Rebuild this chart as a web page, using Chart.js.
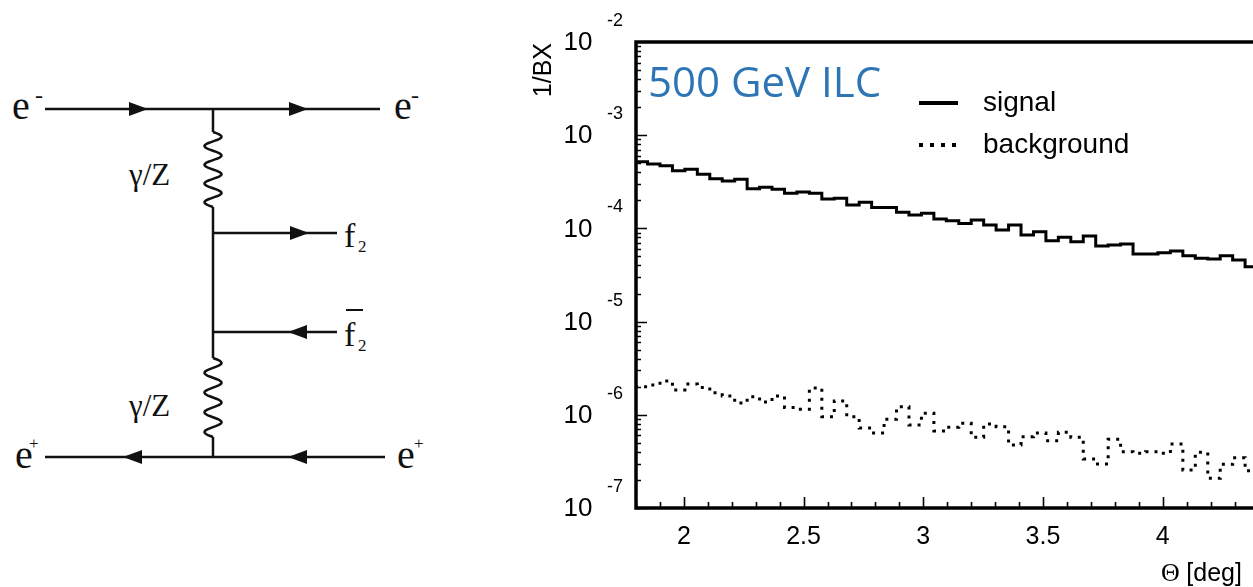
<!DOCTYPE html>
<html>
<head>
<meta charset="utf-8">
<script src="https://cdn.jsdelivr.net/npm/chart.js@4.4.0/dist/chart.umd.min.js"></script>
<style>
  html, body { margin: 0; padding: 0; background: #fff; overflow: hidden; width: 1253px; height: 587px; }
  #diagram { position: absolute; left: 0; top: 0; }
  #wrap { position: absolute; left: 520px; top: 0; width: 800px; height: 587px; }
  #diagram text { font-family: "Liberation Serif", "DejaVu Serif", serif; fill: #111; }
</style>
</head>
<body>
<svg id="diagram" width="520" height="587" xmlns="http://www.w3.org/2000/svg">
  <g stroke="#111" stroke-width="2.5" fill="none">
    <line x1="45" y1="109" x2="380" y2="109"/>
    <line x1="45" y1="457" x2="385" y2="457"/>
    <line x1="213" y1="109" x2="213" y2="132"/>
    <line x1="213" y1="207" x2="213" y2="358"/>
    <line x1="213" y1="437" x2="213" y2="457"/>
    <line x1="213" y1="233" x2="337" y2="233"/>
    <line x1="213" y1="332" x2="337" y2="332"/>
    <polyline id="w1" points=""/>
    <polyline id="w2" points=""/>
  </g>
  <g fill="#111">
    <polygon points="129,102 148,109 129,116"/>
    <polygon points="289,102 308,109 289,116"/>
    <polygon points="290,226 309,233 290,240"/>
    <polygon points="307,325 288,332 307,339"/>
    <polygon points="142,450 123,457 142,464"/>
    <polygon points="307,450 288,457 307,464"/>
  </g>
  <text x="12" y="119" font-size="40">e</text>
  <text x="35" y="103" font-size="24">-</text>
  <text x="394" y="119" font-size="40">e</text>
  <text x="411" y="103" font-size="24">-</text>
  <text x="15" y="468" font-size="40">e</text>
  <text x="29" y="449" font-size="17">+</text>
  <text x="397" y="468" font-size="40">e</text>
  <text x="414" y="449" font-size="17">+</text>
  <text x="129" y="185" font-size="31">γ/Z</text>
  <text x="129" y="416" font-size="31">γ/Z</text>
  <text x="344" y="247" font-size="34">f</text>
  <text x="358" y="252" font-size="17">2</text>
  <text x="344" y="346" font-size="34">f</text>
  <line x1="346" y1="310" x2="363" y2="310" stroke="#111" stroke-width="2"/>
  <text x="358" y="351" font-size="17">2</text>
</svg>
<div id="wrap"><canvas id="c" width="800" height="587"></canvas></div>
<script>
// Wavy boson propagators of the diagram
function wave(id, y0, y1, cx, amp, periods) {
  const pts = [];
  const n = 160;
  for (let i = 0; i <= n; i++) {
    const t = i / n;
    pts.push((cx + amp * Math.sin(2 * Math.PI * periods * t)).toFixed(2) + ',' + (y0 + (y1 - y0) * t).toFixed(2));
  }
  document.getElementById(id).setAttribute('points', pts.join(' '));
}
wave('w1', 132, 207, 213, 8.5, 4);
wave('w2', 358, 437, 213, 8.5, 4);

// Histogram binning in Θ [deg]
const binStart = 1.7962;
const binWidth = 0.0520;

// Signal rate per bunch crossing, one value per bin
const signal = [
  5.20e-4, 4.91e-4, 4.71e-4, 4.16e-4, 4.31e-4, 3.80e-4, 3.41e-4, 3.23e-4, 3.36e-4, 2.67e-4,
  2.76e-4, 2.63e-4, 2.38e-4, 2.46e-4, 2.38e-4, 2.07e-4, 2.10e-4, 1.78e-4, 1.91e-4, 1.68e-4,
  1.68e-4, 1.49e-4, 1.39e-4, 1.45e-4, 1.26e-4, 1.21e-4, 1.13e-4, 1.23e-4, 1.09e-4, 9.61e-5,
  1.09e-4, 8.49e-5, 9.22e-5, 7.38e-5, 8.02e-5, 7.20e-5, 8.29e-5, 6.47e-5, 6.63e-5, 6.80e-5,
  5.31e-5, 5.31e-5, 5.48e-5, 5.72e-5, 5.09e-5, 4.78e-5, 4.70e-5, 5.09e-5, 4.58e-5, 3.88e-5
];

// Background rate per bunch crossing, one value per bin
const background = [
  2.00e-6, 2.09e-6, 2.31e-6, 1.85e-6, 2.14e-6, 1.96e-6, 1.72e-6, 1.59e-6, 1.34e-6, 1.56e-6,
  1.37e-6, 1.59e-6, 1.20e-6, 1.15e-6, 1.94e-6, 9.54e-7, 1.41e-6, 9.54e-7, 7.22e-7, 6.38e-7,
  8.95e-7, 1.22e-6, 7.77e-7, 1.04e-6, 6.70e-7, 7.34e-7, 8.11e-7, 5.74e-7, 7.97e-7, 7.45e-7,
  4.74e-7, 5.82e-7, 6.38e-7, 5.27e-7, 6.49e-7, 5.74e-7, 3.36e-7, 2.96e-7, 5.46e-7, 4.02e-7,
  3.86e-7, 4.02e-7, 3.86e-7, 4.86e-7, 2.56e-7, 3.96e-7, 2.08e-7, 2.94e-7, 3.47e-7, 2.51e-7
];

// Axis ticks and labels
const xMajorTicks = [2, 2.5, 3, 3.5, 4];
const xTickLabels = ['2', '2.5', '3', '3.5', '4'];
const yDecades = [-2, -3, -4, -5, -6, -7];
const xMin = 1.8, xMax = 4.5;

// Step-histogram points: left edge of each bin, plus the closing right edge
function histPoints(vals) {
  const pts = vals.map((v, i) => ({ x: binStart + i * binWidth, y: v }));
  pts.push({ x: binStart + vals.length * binWidth, y: vals[vals.length - 1] });
  return pts;
}

const SANS = '"Liberation Sans", Arial, Helvetica, sans-serif';
const SERIF = '"Liberation Serif", "Times New Roman", serif';

const rootFrame = {
  id: 'rootFrame',
  afterDatasetsDraw(chart) {
    const { ctx, chartArea: a, scales: { x, y } } = chart;
    const ds = chart.data.datasets;
    ctx.save();
    ctx.strokeStyle = '#000';
    ctx.fillStyle = '#000';

    // y ticks (inside, log decades with minor ticks)
    ctx.lineWidth = 1.6;
    ctx.beginPath();
    for (let d = 1; d < yDecades.length; d++) {
      const e = yDecades[d];
      for (let m = 1; m < 10; m++) {
        const py = Math.round(y.getPixelForValue(m * Math.pow(10, e))) + 0.5;
        const len = m === 1 ? 11 : 5;
        ctx.moveTo(a.left, py);
        ctx.lineTo(a.left + len, py);
      }
    }
    // x ticks every 0.1, longer at labelled values
    for (let k = Math.ceil(xMin * 10); k <= Math.floor(xMax * 10); k++) {
      const v = k / 10;
      const px = Math.round(x.getPixelForValue(v)) + 0.5;
      const major = xMajorTicks.some(t => Math.abs(t - v) < 1e-9);
      ctx.moveTo(px, a.bottom);
      ctx.lineTo(px, a.bottom - (major ? 11 : 6));
    }
    ctx.stroke();

    // frame
    ctx.lineWidth = 3.5;
    ctx.strokeRect(a.left, a.top, a.right - a.left, a.bottom - a.top);

    // y labels 10^n
    ctx.textAlign = 'center';
    ctx.textBaseline = 'middle';
    yDecades.forEach(e => {
      const py = y.getPixelForValue(Math.pow(10, e));
      ctx.font = '26px ' + SANS;
      ctx.fillText('10', a.left - 58, py + 1);
      ctx.font = '18px ' + SANS;
      ctx.fillText(String(e), a.left - 21, py - 21);
    });

    // x labels
    ctx.font = '25px ' + SANS;
    xMajorTicks.forEach((v, i) => {
      ctx.fillText(xTickLabels[i], x.getPixelForValue(v), a.bottom + 29);
    });

    // x title
    ctx.textAlign = 'left';
    ctx.font = '26px ' + SERIF;
    ctx.fillText('Θ', a.left + 525, a.bottom + 66);
    const tw = ctx.measureText('Θ ').width;
    ctx.font = '25px ' + SANS;
    ctx.fillText('[deg]', a.left + 525 + tw, a.bottom + 66);

    // y title
    ctx.save();
    ctx.translate(a.left - 92, a.top + 1);
    ctx.rotate(-Math.PI / 2);
    ctx.textAlign = 'right';
    ctx.textBaseline = 'middle';
    ctx.font = '25px ' + SANS;
    ctx.fillText('1/BX', 0, 0);
    ctx.restore();

    // plot caption
    ctx.textAlign = 'left';
    ctx.textBaseline = 'alphabetic';
    ctx.fillStyle = '#2E75B6';
    ctx.font = '42px "Open Sans", Lato, sans-serif';
    ctx.fillText('500 GeV ILC', a.left + 12, a.top + 55);

    // legend
    ctx.fillStyle = '#000';
    ctx.textBaseline = 'middle';
    ctx.font = '28px ' + SANS;
    const lx = a.left + 283, tx = a.left + 347;
    const rows = [
      { ds: ds[0], y: a.top + 61, dash: [] },
      { ds: ds[1], y: a.top + 103, dash: [4, 7] }
    ];
    rows.forEach(r => {
      ctx.save();
      ctx.strokeStyle = r.ds.borderColor;
      ctx.lineWidth = 4;
      ctx.setLineDash(r.dash);
      ctx.beginPath();
      ctx.moveTo(lx, r.y);
      ctx.lineTo(lx + 39, r.y);
      ctx.stroke();
      ctx.restore();
      ctx.fillText(r.ds.label, tx, r.y);
    });
    ctx.restore();
  }
};

new Chart(document.getElementById('c'), {
  type: 'line',
  data: {
    datasets: [
      {
        label: 'signal',
        data: histPoints(signal),
        borderColor: '#000',
        borderWidth: 3,
        stepped: true,
        pointRadius: 0,
        fill: false
      },
      {
        label: 'background',
        data: histPoints(background),
        borderColor: '#000',
        borderWidth: 3,
        borderDash: [3, 6],
        borderCapStyle: 'butt',
        stepped: true,
        pointRadius: 0,
        fill: false
      }
    ]
  },
  options: {
    responsive: false,
    animation: false,
    devicePixelRatio: 1,
    layout: { padding: { left: 116, top: 42, bottom: 79, right: 37.6 } },
    plugins: { legend: { display: false }, tooltip: { enabled: false } },
    scales: {
      x: { type: 'linear', min: xMin, max: xMax, display: false },
      y: { type: 'logarithmic', min: 1e-7, max: 1e-2, display: false }
    }
  },
  plugins: [rootFrame]
});
</script>
</body>
</html>
